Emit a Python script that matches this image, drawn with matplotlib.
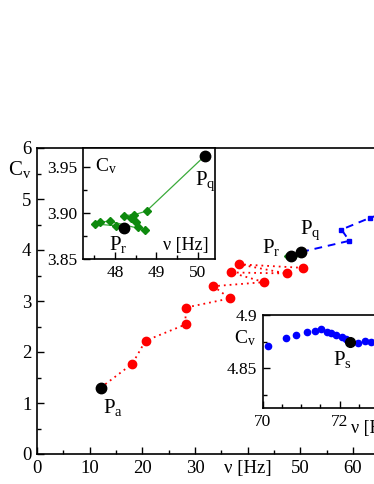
import matplotlib
matplotlib.use("Agg")
import matplotlib.pyplot as plt
from matplotlib.ticker import MultipleLocator

plt.rcParams['font.family'] = ['Liberation Serif', 'DejaVu Serif']
plt.rcParams['mathtext.fontset'] = 'custom'
plt.rcParams['mathtext.rm'] = 'Liberation Serif'
plt.rcParams['mathtext.it'] = 'Liberation Serif:italic'

# ---------------- data ----------------
# red trajectory (main panel), starts at P_a
red_x = [12.1, 18.1, 20.6, 28.2, 28.2, 36.6, 33.5, 43.1, 36.8, 47.4, 38.3, 50.5]
red_y = [1.30, 1.77, 2.22, 2.54, 2.87, 3.05, 3.29, 3.37, 3.56, 3.54, 3.72, 3.65]

# green trajectory (inset 1), from P_q to P_r
green_x = [50.17, 48.76, 48.47, 48.22, 48.39, 48.51, 48.55, 48.72, 47.87, 47.63, 47.51, 48.03, 48.21]
green_y = [3.962, 3.902, 3.898, 3.897, 3.894, 3.890, 3.885, 3.8815, 3.891, 3.890, 3.888, 3.886, 3.884]

# blue trajectory (main panel), from P_q onward
blue_x = [50.17, 59.3, 57.8, 63.2]
blue_y = [3.962, 4.18, 4.40, 4.63]

# blue points (inset 2)
b2_x = [70.15, 70.60, 70.88, 71.16, 71.36, 71.53, 71.68, 71.79, 71.92, 72.07, 72.18, 72.49, 72.66, 72.83]
b2_y = [4.8709, 4.8781, 4.8812, 4.8838, 4.8853, 4.8869, 4.8843, 4.8828, 4.8812, 4.8797, 4.8772, 4.8734, 4.8759, 4.8750]

# special points
Pa = (12.1, 1.30)
Pq = (50.17, 3.962)
Pr = (48.21, 3.884)
Ps = (72.27, 4.875)

main_xticks = [0, 10, 20, 30, 40, 50, 60]
main_xticklabels = ['0', '10', '20', '30', 'ν [Hz]', '50', '60']
main_yticks = [0, 1, 2, 3, 4, 5, 6]

ins1_xticks = [48, 49, 50]
ins1_yticks = [3.85, 3.90, 3.95]
ins1_yticklabels = ['3.85', '3.90', '3.95']
ins2_xticks = [70, 72]
ins2_yticks = [4.85, 4.9]
ins2_yticklabels = ['4.85', '4.9']

GREEN_M = '#0e8a0e'
GREEN_L = '#3aaa3a'

def style(ax, lsize, xminor, yminor):
    for s in ax.spines.values():
        s.set_linewidth(1.2)
    ax.tick_params(direction='in', which='major', length=5, width=1.0, labelsize=lsize,
                   top=False, right=False, pad=4)
    ax.tick_params(direction='in', which='minor', length=3, width=1.0, top=False, right=False)
    ax.xaxis.set_minor_locator(MultipleLocator(xminor))
    ax.yaxis.set_minor_locator(MultipleLocator(yminor))

fig = plt.figure(figsize=(3.74, 4.84), dpi=100)

# ---------------- main panel ----------------
ax = fig.add_axes([37/374, 1-454/484, 68*5.267/374, 306/484])
ax.set_xlim(0, 68)
ax.set_ylim(0, 6)
style(ax, 13.5, 5, 0.5)
ax.set_xticks(main_xticks)
ax.set_xticklabels(main_xticklabels)
ax.set_yticks(main_yticks)

ax.plot(red_x, red_y, color='red', linestyle=(0, (1, 2.2)), lw=1.3,
        marker='o', ms=6, mec='red', mfc='red', zorder=3)
ax.plot(blue_x + b2_x, blue_y + b2_y, color='blue', linestyle=(0, (4, 3)), lw=1.4, zorder=3)
ax.plot(blue_x[1:], blue_y[1:], 's', color='blue', ms=3, zorder=4)
ax.plot(green_x, green_y, color=GREEN_L, lw=0.8, marker='D', ms=3, mfc=GREEN_M, mec=GREEN_M, zorder=4)
ax.plot([Pa[0], Pr[0], Pq[0]], [Pa[1], Pr[1], Pq[1]], 'o', color='black', ms=7.5, zorder=5)

ax.text(12.5, 0.80, r'P$_{\mathrm{a}}$', fontsize=15, ha='left', va='baseline')
ax.text(42.7, 3.94, r'P$_{\mathrm{r}}$', fontsize=15, ha='left', va='baseline')
ax.text(49.9, 4.32, r'P$_{\mathrm{q}}$', fontsize=15, ha='left', va='baseline')
ax.text(-5.6, 5.47, r'C$_{\mathrm{v}}$', fontsize=15, ha='left', va='baseline', clip_on=False)

# ---------------- inset 1 ----------------
a1 = fig.add_axes([83/374, 1-259/484, 132/374, 111/484])
a1.set_xlim(47.23, 50.41)
a1.set_ylim(3.85, 3.9703)
style(a1, 12.5, 0.5, 0.025)
a1.set_xticks(ins1_xticks)
a1.set_yticks(ins1_yticks)
a1.set_yticklabels(ins1_yticklabels)
a1.plot(green_x, green_y, color=GREEN_L, lw=0.9, zorder=2)
a1.plot(green_x[1:-1], green_y[1:-1], 'D', color=GREEN_M, ms=4.5, zorder=3)
a1.plot([Pq[0], Pr[0]], [Pq[1], Pr[1]], 'o', color='black', ms=7.5, zorder=4)
a1.text(47.52, 3.9446, r'C$_{\mathrm{v}}$', fontsize=14, ha='left', va='baseline')
a1.text(49.93, 3.9301, r'P$_{\mathrm{q}}$', fontsize=15, ha='left', va='baseline')
a1.text(47.86, 3.8595, r'P$_{\mathrm{r}}$', fontsize=15, ha='left', va='baseline')
a1.text(49.16, 3.8595, 'ν [Hz]', fontsize=13, ha='left', va='baseline')

# ---------------- inset 2 ----------------
a2 = fig.add_axes([262.5/374, 1-408/484, 154/374, 93/484])
a2.set_xlim(70, 74)
a2.set_ylim(4.8128, 4.9)
style(a2, 12.5, 0.5, 0.025)
a2.set_xticks(ins2_xticks)
a2.set_yticks(ins2_yticks)
a2.set_yticklabels(ins2_yticklabels)
a2.plot(b2_x, b2_y, 'o', color='blue', ms=4.5, zorder=3)
a2.plot([Ps[0]], [Ps[1]], 'o', color='black', ms=7, zorder=4)
a2.text(71.82, 4.8531, r'P$_{\mathrm{s}}$', fontsize=15, ha='left', va='baseline')
a2.text(69.27, 4.8735, r'C$_{\mathrm{v}}$', fontsize=14, ha='left', va='baseline', clip_on=False)
a2.text(72.31, 4.7893, 'ν [Hz]', fontsize=13, ha='left', va='baseline', clip_on=False)

fig.savefig('out.png', dpi=100)
